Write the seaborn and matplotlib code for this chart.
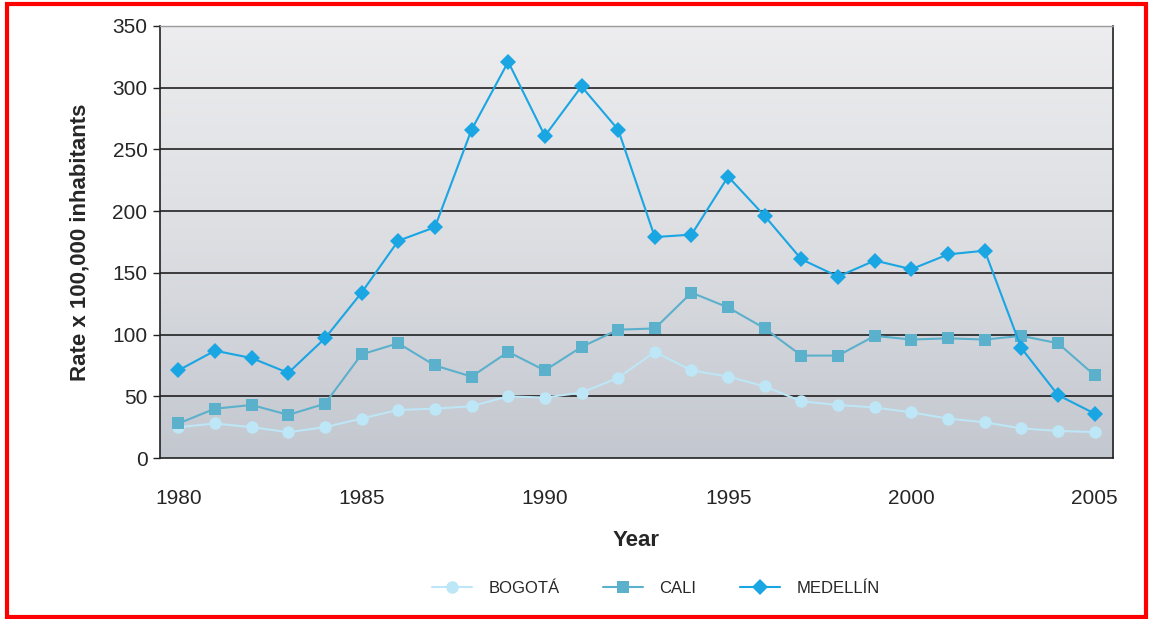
import numpy as np
import pandas as pd
import matplotlib
matplotlib.use("Agg")
import matplotlib.pyplot as plt
import matplotlib.patches as mpatches
from matplotlib.colors import LinearSegmentedColormap
import seaborn as sns

years = list(range(1980, 2006))
bogota = [25, 28, 25, 21, 25, 32, 39, 40, 42, 50, 49, 53, 65, 86, 71, 66,
          58, 46, 43, 41, 37, 32, 29, 24, 22, 21]
cali = [28, 40, 43, 35, 44, 84, 93, 75, 66, 86, 71, 90, 104, 105, 134, 122,
        105, 83, 83, 99, 96, 97, 96, 99, 93, 67]
medellin = [71, 87, 81, 69, 97, 134, 176, 187, 266, 321, 261, 301, 266, 179, 181, 228,
            196, 161, 147, 160, 153, 165, 168, 89, 51, 36]
cities = ["BOGOTÁ", "CALI", "MEDELLÍN"]

df = pd.DataFrame({
    "Year": years * 3,
    "Rate": bogota + cali + medellin,
    "City": [cities[0]] * 26 + [cities[1]] * 26 + [cities[2]] * 26,
})

sns.set_style("white")
plt.rcParams["font.family"] = ["Liberation Sans Narrow", "Liberation Sans", "DejaVu Sans"]

fig = plt.figure(figsize=(11.51, 6.19), dpi=100)
ax = fig.add_axes([0.139, 0.26, 0.828, 0.698])

# gradient background of the plot area
cmap = LinearSegmentedColormap.from_list("bg", ["#c3c7cf", "#dcdee2", "#ededef"])
grad = np.linspace(0, 1, 256).reshape(-1, 1)
ax.imshow(grad, extent=[1979.5, 2005.5, 0, 350], origin="lower", aspect="auto",
          cmap=cmap, zorder=0)

for y in range(50, 350, 50):
    ax.axhline(y, color="#111111", lw=1.1, zorder=1)

palette = {"BOGOTÁ": "#bde6f6", "CALI": "#5bb0cc", "MEDELLÍN": "#1aa5e3"}
markers = {"BOGOTÁ": "o", "CALI": "s", "MEDELLÍN": "D"}
sizes = {"BOGOTÁ": 9, "CALI": 8, "MEDELLÍN": 8}

for city in cities:
    sub = df[df["City"] == city]
    sns.lineplot(data=sub, x="Year", y="Rate", ax=ax, color=palette[city],
                 marker=markers[city], markersize=sizes[city], markeredgewidth=0,
                 lw=1.5, label=city, zorder=3)

ax.set_xlim(1979.5, 2005.5)
ax.set_ylim(0, 350)
ax.set_yticks(range(0, 351, 50))
ax.set_xticks(range(1980, 2006, 5))
ax.set_xticks(np.arange(1979.5, 2006, 1), minor=True)
ax.tick_params(axis="x", which="major", length=0, pad=22, labelsize=15)
ax.tick_params(axis="x", which="minor", length=6, width=1.2, color="#222222", direction="out")
ax.tick_params(axis="y", length=5, width=1, color="#222222", labelsize=15, pad=4, left=True)

for side in ["left", "bottom", "right"]:
    ax.spines[side].set_color("#222222")
    ax.spines[side].set_linewidth(1.2)
ax.spines["top"].set_color("#9a9a9a")
ax.spines["top"].set_linewidth(1)

ax.set_ylabel("Rate x 100,000 inhabitants", fontsize=16, fontweight="bold",
              family=["Liberation Sans", "DejaVu Sans"], labelpad=16)
ax.set_xlabel("Year", fontsize=16, fontweight="bold",
              family=["Liberation Sans", "DejaVu Sans"], labelpad=16)

ax.legend(loc="upper center", bbox_to_anchor=(0.52, -0.25), ncol=3, frameon=False,
          fontsize=12, handlelength=2.4, columnspacing=2.6, handletextpad=1.0)

fig.patches.append(mpatches.Rectangle((0.006, 0.004), 0.99, 0.99, transform=fig.transFigure,
                                      fill=False, edgecolor="#ff0000", lw=3))

fig.savefig("out.png", dpi=100)
